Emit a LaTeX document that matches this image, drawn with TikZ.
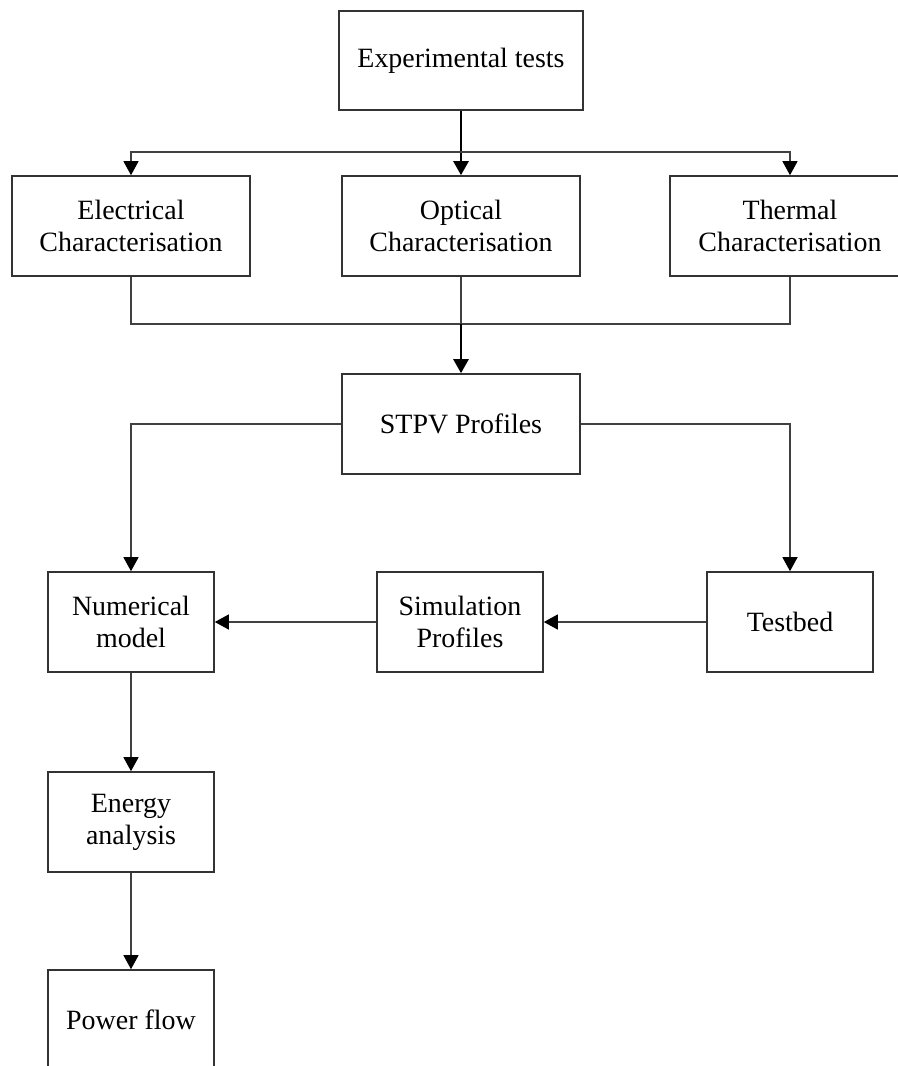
\documentclass[tikz,border=0pt]{standalone}
\usepackage{fontspec}
\setmainfont{Liberation Serif}
\usetikzlibrary{arrows.meta}
\tikzset{
  box/.style={draw=black!80, line width=0.9pt, rectangle, align=center, minimum height=2cm, inner sep=2pt, font=\fontsize{15.9}{18.1}\selectfont},
  wide/.style={box, minimum width=4.76cm},
  narrow/.style={box, minimum width=3.32cm},
  link/.style={draw=black!75, line width=0.9pt},
  arrow/.style={link, -{Triangle[length=8pt,width=8.5pt,color=black]}},
  mainarrow/.style={draw=black, line width=1.6pt, -{Triangle[length=8pt,width=8.5pt]}}
}
\begin{document}
\begin{tikzpicture}[x=0.02cm,y=-0.02cm]
  \path[use as bounding box, clip] (0,0) rectangle (898,1066);
  % Boxes
  \node[wide, minimum width=4.88cm, minimum height=1.98cm] (exp) at (461,60.5) {Experimental tests};
  \node[wide] (elec) at (131,226) {Electrical\\Characterisation};
  \node[wide] (opt) at (461,226) {Optical\\Characterisation};
  \node[wide, minimum width=4.8cm] (therm) at (790,226) {Thermal\\Characterisation};
  \node[wide] (stpv) at (461,424) {STPV Profiles};
  \node[narrow] (num) at (131,622) {Numerical\\model};
  \node[narrow] (sim) at (460,622) {Simulation\\Profiles};
  \node[narrow] (test) at (790,622) {Testbed};
  \node[narrow] (energy) at (131,822) {Energy\\analysis};
  \node[narrow] (power) at (131,1020) {Power flow};
  % Branch points
  \coordinate (fork) at (461,152);
  \coordinate (join) at (461,324);
  % Arrows
  \draw[mainarrow] (exp.south) -- (opt.north);
  \draw[arrow] (fork) -| (elec.north);
  \draw[arrow] (fork) -| (therm.north);
  \draw[link] (elec.south) |- (join) -| (therm.south);
  \draw[link] (opt.south) -- (join);
  \draw[mainarrow] (join) -- (stpv.north);
  \draw[arrow] (stpv.west) -| (num.north);
  \draw[arrow] (stpv.east) -| (test.north);
  \draw[arrow] (test.west) -- (sim.east);
  \draw[arrow] (sim.west) -- (num.east);
  \draw[arrow] (num.south) -- (energy.north);
  \draw[arrow] (energy.south) -- (power.north);
\end{tikzpicture}
\end{document}
